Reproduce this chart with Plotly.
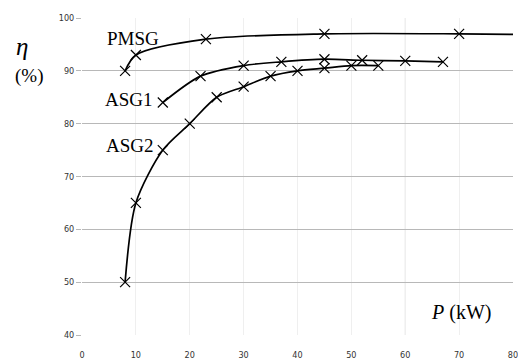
import plotly.graph_objects as go

pmsg_x = [8, 10, 23, 45, 70, 80]
pmsg_y = [90, 93, 96, 97, 97, 96.9]
pmsg_marker = [True, True, True, True, True, False]

asg1_x = [15, 22, 30, 37, 45, 52, 60, 67]
asg1_y = [84, 89, 91, 91.7, 92.2, 92.0, 91.9, 91.7]

asg2_x = [8, 10, 15, 20, 25, 30, 35, 40, 45, 50, 55]
asg2_y = [50, 65, 75, 80, 85, 87, 89, 90, 90.5, 91, 91]

x_ticks = [0, 10, 20, 30, 40, 50, 60, 70, 80]
y_ticks = [40, 50, 60, 70, 80, 90, 100]

L, R, T, B = 82, 5, 18, 25
W = 518 - L - R
H = 360 - T - B

def px(x):
    return (x - L) / W

def py(y):
    return 1 - (y - T) / H

fig = go.Figure()

line_style = dict(color="black", width=1.7, shape="spline", smoothing=0.8)
marker_style = dict(symbol="x-thin", size=10, line=dict(color="black", width=1.2), color="black")

fig.add_trace(go.Scatter(x=pmsg_x, y=pmsg_y, mode="lines", line=line_style, showlegend=False, hoverinfo="skip"))
fig.add_trace(go.Scatter(x=[x for x, m in zip(pmsg_x, pmsg_marker) if m],
                         y=[y for y, m in zip(pmsg_y, pmsg_marker) if m],
                         mode="markers", marker=marker_style, showlegend=False))
fig.add_trace(go.Scatter(x=asg1_x, y=asg1_y, mode="lines+markers", line=line_style, marker=marker_style, showlegend=False))
fig.add_trace(go.Scatter(x=asg2_x, y=asg2_y, mode="lines+markers", line=line_style, marker=marker_style, showlegend=False))

serif = "Liberation Serif"
tickfont = dict(family="DejaVu Sans Condensed", size=9, color="#333")

for xx, yy, txt in [(106, 38, "PMSG"), (104, 100, "ASG1"), (105, 145, "ASG2")]:
    fig.add_annotation(x=px(xx), y=py(yy), xref="paper", yref="paper", text=txt,
                       showarrow=False, xanchor="left", yanchor="middle", borderpad=0,
                       font=dict(family=serif, size=19, color="black"))

for xx, yy, txt, sz in [(22, 46, "<i>η</i>", 25), (29, 76, "(%)", 19), (461, 312, "<i>P</i> (kW)", 20)]:
    fig.add_annotation(x=px(xx), y=py(yy), xref="paper", yref="paper", text=txt,
                       showarrow=False, xanchor="center", yanchor="middle", borderpad=0,
                       font=dict(family=serif, size=sz, color="black"))

fig.update_layout(
    width=518, height=360,
    margin=dict(l=L, r=R, t=T, b=B),
    paper_bgcolor="white", plot_bgcolor="white",
    font=dict(family=serif, color="black"),
)

fig.update_xaxes(range=[0, 80], tickvals=x_ticks, showgrid=True, gridcolor="#efefef", gridwidth=1,
                 zeroline=False, showline=False, tickfont=tickfont, ticks="outside", ticklen=11,
                 tickcolor="rgba(0,0,0,0)", automargin=False, ticklabeloverflow="allow")
fig.update_yaxes(range=[40, 100], tickvals=y_ticks, showgrid=True, gridcolor="#b8b8b8", gridwidth=1.2,
                 zeroline=False, showline=False, tickfont=tickfont, ticks="outside", ticklen=5,
                 tickcolor="#b8b8b8", automargin=False, ticklabeloverflow="allow")

fig.add_shape(type="line", x0=60, x1=60, y0=40, y1=100, xref="x", yref="y",
              line=dict(color="#d8d8d8", width=1), layer="below")

fig.write_html("out.html", config={"displayModeBar": False},
               post_script="document.body.style.margin='0';")
